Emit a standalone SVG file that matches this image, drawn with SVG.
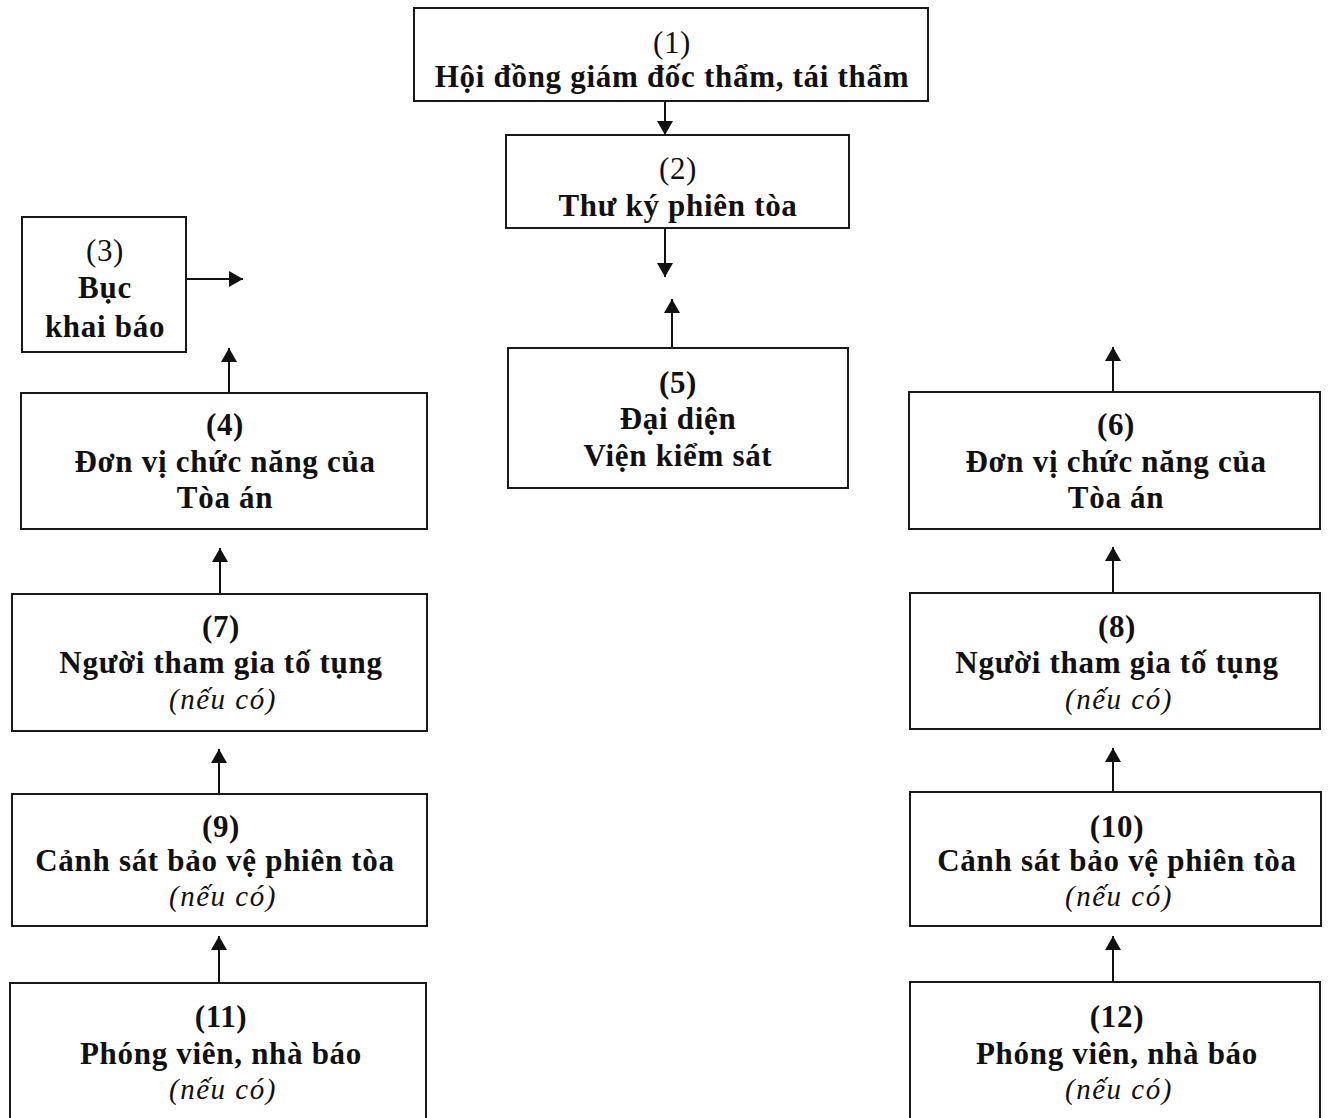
<svg xmlns="http://www.w3.org/2000/svg" width="1328" height="1118" viewBox="0 0 1328 1118">
<defs>
<marker id="ah" viewBox="0 0 14 16" refX="14" refY="8" markerWidth="14" markerHeight="16" markerUnits="userSpaceOnUse" orient="auto">
<path d="M0,0 L14,8 L0,16 Z" fill="#111"/>
</marker>
</defs>
<style>
.box{fill:#fff;stroke:#1a1a1a;stroke-width:2}
.t{font-family:"Liberation Serif","Times New Roman",serif;font-size:31px;font-weight:bold;fill:#111;text-anchor:middle;letter-spacing:0.7px}
.i{font-family:"Liberation Serif","Times New Roman",serif;font-size:29px;font-style:italic;fill:#111;text-anchor:middle;letter-spacing:1.5px}
.c{stroke:#111;stroke-width:2;fill:none;marker-end:url(#ah)}
</style>
<rect width="1328" height="1118" fill="#fff"/>
<g id="connectors">
<line class="c" x1="665" y1="101" x2="665" y2="135"/>
<line class="c" x1="665" y1="228" x2="665" y2="277"/>
<line class="c" x1="672" y1="348" x2="672" y2="299"/>
<line class="c" x1="186" y1="279" x2="243" y2="279"/>
<line class="c" x1="229" y1="393" x2="229" y2="348"/>
<line class="c" x1="1113" y1="392" x2="1113" y2="347"/>
<line class="c" x1="220" y1="594" x2="220" y2="548"/>
<line class="c" x1="1113" y1="593" x2="1113" y2="547"/>
<line class="c" x1="219" y1="794" x2="219" y2="749"/>
<line class="c" x1="1113" y1="792" x2="1113" y2="748"/>
<line class="c" x1="219" y1="983" x2="219" y2="936"/>
<line class="c" x1="1113" y1="982" x2="1113" y2="936"/>
</g>
<g id="n1">
<rect class="box" x="414" y="8" width="514" height="93"/>
<text class="t" x="672" y="53" style="font-weight:normal">(1)</text>
<text class="t" x="672" y="87">Hội đồng giám đốc thẩm, tái thẩm</text>
</g>
<g id="n2">
<rect class="box" x="506" y="135" width="343" height="93"/>
<text class="t" x="678" y="179" style="font-weight:normal">(2)</text>
<text class="t" x="678" y="216">Thư ký phiên tòa</text>
</g>
<g id="n3">
<rect class="box" x="22" y="217" width="164" height="135"/>
<text class="t" x="105" y="261" style="font-weight:normal">(3)</text>
<text class="t" x="105" y="298">Bục</text>
<text class="t" x="105" y="337">khai báo</text>
</g>
<g id="n4">
<rect class="box" x="21" y="393" width="406" height="136"/>
<text class="t" x="225" y="435">(4)</text>
<text class="t" x="225" y="472">Đơn vị chức năng của</text>
<text class="t" x="225" y="508">Tòa án</text>
</g>
<g id="n5">
<rect class="box" x="508" y="348" width="340" height="140"/>
<text class="t" x="678" y="393">(5)</text>
<text class="t" x="678" y="429">Đại diện</text>
<text class="t" x="678" y="466">Viện kiểm sát</text>
</g>
<g id="n6">
<rect class="box" x="909" y="392" width="411" height="137"/>
<text class="t" x="1116" y="435">(6)</text>
<text class="t" x="1116" y="472">Đơn vị chức năng của</text>
<text class="t" x="1116" y="508">Tòa án</text>
</g>
<g id="n7">
<rect class="box" x="12" y="594" width="415" height="137"/>
<text class="t" x="221" y="637">(7)</text>
<text class="t" x="221" y="673">Người tham gia tố tụng</text>
<text class="i" x="223" y="709">(nếu có)</text>
</g>
<g id="n8">
<rect class="box" x="910" y="593" width="410" height="136"/>
<text class="t" x="1117" y="637">(8)</text>
<text class="t" x="1117" y="673">Người tham gia tố tụng</text>
<text class="i" x="1119" y="709">(nếu có)</text>
</g>
<g id="n9">
<rect class="box" x="12" y="794" width="415" height="132"/>
<text class="t" x="221" y="837">(9)</text>
<text class="t" x="215" y="871">Cảnh sát bảo vệ phiên tòa</text>
<text class="i" x="223" y="906">(nếu có)</text>
</g>
<g id="n10">
<rect class="box" x="910" y="792" width="411" height="134"/>
<text class="t" x="1117" y="837">(10)</text>
<text class="t" x="1117" y="871">Cảnh sát bảo vệ phiên tòa</text>
<text class="i" x="1119" y="906">(nếu có)</text>
</g>
<g id="n11">
<rect class="box" x="10" y="983" width="416" height="150"/>
<text class="t" x="221" y="1027">(11)</text>
<text class="t" x="221" y="1064">Phóng viên, nhà báo</text>
<text class="i" x="223" y="1099">(nếu có)</text>
</g>
<g id="n12">
<rect class="box" x="910" y="982" width="410" height="150"/>
<text class="t" x="1117" y="1027">(12)</text>
<text class="t" x="1117" y="1064">Phóng viên, nhà báo</text>
<text class="i" x="1119" y="1099">(nếu có)</text>
</g>
</svg>
